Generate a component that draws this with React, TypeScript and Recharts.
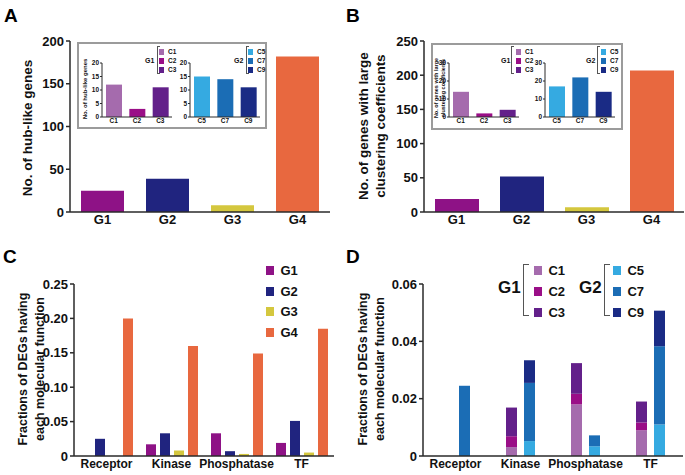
import React from 'react';
import { BarChart, Bar, XAxis, YAxis, Cell } from 'recharts';

const FONT = '"Liberation Sans", Arial, Helvetica, sans-serif';

// ---------- data ----------
const groups = ['G1', 'G2', 'G3', 'G4'];
const hubCounts = [25, 39, 8, 182];
const clusteringCounts = [19, 52, 7, 207];

const g1Clusters = ['C1', 'C2', 'C3'];
const g2Clusters = ['C5', 'C7', 'C9'];
const hubG1 = [12, 3, 11];
const hubG2 = [15, 14, 11];
const clusG1 = [14, 2, 4];
const clusG2 = [17, 22, 14];

const functions = ['Receptor', 'Kinase', 'Phosphatase', 'TF'];
const fracG1 = [0, 0.017, 0.033, 0.019];
const fracG2 = [0.025, 0.033, 0.007, 0.051];
const fracG3 = [0, 0.008, 0.003, 0.005];
const fracG4 = [0.2, 0.16, 0.149, 0.185];

const fracC1 = [0, 0.0031, 0.018, 0.009];
const fracC2 = [0, 0.0038, 0.0037, 0.0027];
const fracC3 = [0, 0.01, 0.0107, 0.0073];
const fracC5 = [0, 0.0052, 0.0034, 0.011];
const fracC7 = [0.0245, 0.0203, 0.0038, 0.0273];
const fracC9 = [0, 0.0079, 0, 0.0124];

const hubTicks = [0, 50, 100, 150, 200];
const clusTicks = [0, 50, 100, 150, 200, 250];
const insetHubTicks = [0, 5, 10, 15, 20];
const insetClusTicks = [0, 10, 20, 30];
const fracTicksC = [0, 0.05, 0.1, 0.15, 0.2, 0.25];
const fracTicksD = [0, 0.02, 0.04, 0.06];

const COLORS: Record<string, string> = {
  G1: '#8E1286',
  G2: '#20247F',
  G3: '#D4C73E',
  G4: '#E8683F',
  C1: '#A56BAD',
  C2: '#9A0E87',
  C3: '#63208A',
  C5: '#35AAE1',
  C7: '#1B6DB5',
  C9: '#1A2B85',
};

// ---------- built tables ----------
const hubData = groups.map((g, i) => ({ name: g, value: hubCounts[i] }));
const clusData = groups.map((g, i) => ({ name: g, value: clusteringCounts[i] }));
const hubG1Data = g1Clusters.map((c, i) => ({ name: c, value: hubG1[i] }));
const hubG2Data = g2Clusters.map((c, i) => ({ name: c, value: hubG2[i] }));
const clusG1Data = g1Clusters.map((c, i) => ({ name: c, value: clusG1[i] }));
const clusG2Data = g2Clusters.map((c, i) => ({ name: c, value: clusG2[i] }));
const fracData = functions.map((f, i) => ({
  name: f, G1: fracG1[i], G2: fracG2[i], G3: fracG3[i], G4: fracG4[i],
}));
const stackData = functions.map((f, i) => ({
  name: f, C1: fracC1[i], C2: fracC2[i], C3: fracC3[i], C5: fracC5[i], C7: fracC7[i], C9: fracC9[i],
}));

const AXIS = { stroke: '#2a2a2a', strokeWidth: 1.5 };
const mainTick = { fill: '#111', fontSize: 13, fontWeight: 700, fontFamily: FONT };
const catTick = { fill: '#111', fontSize: 12, fontWeight: 700, fontFamily: FONT };
const insetTick = { fill: '#111', fontSize: 6.5, fontWeight: 700, fontFamily: FONT };
const fmtFrac = (v: number) => (v === 0 ? '0' : v.toFixed(2));

const abs = (left: number, top: number): React.CSSProperties => ({ position: 'absolute', left, top });

function RotLabel({ lines, cx, cy, size, lh }: { lines: string[]; cx: number; cy: number; size: number; lh: number }) {
  return (
    <div
      style={{
        position: 'absolute', left: cx, top: cy,
        transform: 'translate(-50%, -50%) rotate(-90deg)',
        whiteSpace: 'nowrap', textAlign: 'center', fontFamily: FONT,
        fontWeight: 700, fontSize: size, lineHeight: `${lh}px`, color: '#111',
      }}
    >
      {lines.map((l) => (<div key={l}>{l}</div>))}
    </div>
  );
}

function PanelLetter({ ch, x, y }: { ch: string; x: number; y: number }) {
  return (
    <div style={{ ...abs(x, y), fontFamily: FONT, fontWeight: 700, fontSize: 19, lineHeight: '19px', color: '#000' }}>{ch}</div>
  );
}

function Bracket({ x, y1, y2, w, bw }: { x: number; y1: number; y2: number; w: number; bw: number }) {
  return (
    <div style={{
      position: 'absolute', left: x, top: y1, width: w, height: y2 - y1, boxSizing: 'border-box',
      borderLeft: `${bw}px solid #555`, borderTop: `${bw}px solid #555`, borderBottom: `${bw}px solid #555`,
    }} />
  );
}

function LegendItem({ x, y, color, label, sq, size }: { x: number; y: number; color: string; label: string; sq: number; size: number }) {
  return (
    <div style={{ position: 'absolute', left: x, top: y, display: 'flex', alignItems: 'center', fontFamily: FONT, fontWeight: 700, fontSize: size, color: '#111', lineHeight: 1 }}>
      <div style={{ width: sq, height: sq + 1, background: color, marginRight: sq * 0.8 }} />
      <span>{label}</span>
    </div>
  );
}

function MainBars({ left, top, width, height, margin, yw, data, ticks, barSize }: any) {
  return (
    <div style={abs(left, top)}>
      <BarChart width={width} height={height} data={data} margin={margin}>
        <XAxis dataKey="name" interval={0} tickLine={false} axisLine={AXIS} tick={mainTick} tickSize={0} tickMargin={3} height={20} />
        <YAxis domain={[0, ticks[ticks.length - 1]]} ticks={ticks} interval={0} width={yw} axisLine={AXIS} tickLine={AXIS} tickSize={4} tickMargin={2} tick={mainTick} />
        <Bar dataKey="value" barSize={barSize} isAnimationActive={false}>
          {data.map((d: any) => (<Cell key={d.name} fill={COLORS[d.name]} />))}
        </Bar>
      </BarChart>
    </div>
  );
}

function InsetBars({ left, top, width, height, margin, yw, data, ticks }: any) {
  const axis = { stroke: '#2a2a2a', strokeWidth: 1 };
  return (
    <div style={abs(left, top)}>
      <BarChart width={width} height={height} data={data} margin={margin}>
        <XAxis dataKey="name" interval={0} tickLine={false} axisLine={axis} tick={insetTick} tickSize={0} tickMargin={1} height={10} />
        <YAxis domain={[0, ticks[ticks.length - 1]]} ticks={ticks} interval={0} width={yw} axisLine={axis} tickLine={axis} tickSize={2} tickMargin={1} tick={insetTick} />
        <Bar dataKey="value" barSize={16} isAnimationActive={false}>
          {data.map((d: any) => (<Cell key={d.name} fill={COLORS[d.name]} />))}
        </Bar>
      </BarChart>
    </div>
  );
}

function InsetLegend({ gx, gLabel, bx, sx, names }: { gx: number; gLabel: string; bx: number; sx: number; names: string[] }) {
  const rows = [49, 58, 67];
  return (
    <>
      <div style={{ ...abs(gx, 57), fontFamily: FONT, fontWeight: 700, fontSize: 7, lineHeight: '8px', color: '#111' }}>{gLabel}</div>
      <Bracket x={bx} y1={46} y2={74} w={3} bw={1} />
      {names.map((n, i) => (
        <LegendItem key={n} x={sx} y={rows[i]} color={COLORS[n]} label={n} sq={5} size={6.5} />
      ))}
    </>
  );
}

export default function App() {
  return (
    <div style={{ position: 'absolute', left: 0, top: 0, width: 685, height: 475, background: '#fff', overflow: 'hidden' }}>
      {/* Panel A */}
      <PanelLetter ch="A" x={4} y={6} />
      <RotLabel lines={['No. of hub-like genes']} cx={27} cy={128} size={13.5} lh={17} />
      <MainBars left={0} top={0} width={342} height={235} margin={{ top: 41, right: 12, bottom: 3, left: 0 }} yw={70} data={hubData} ticks={hubTicks} barSize={43} />
      <div style={{ position: 'absolute', left: 77, top: 42, width: 190, height: 87, boxSizing: 'border-box', border: '2px solid #9b9b9b', background: '#fff' }} />
      <RotLabel lines={['No. of hub-like genes']} cx={85} cy={89} size={6} lh={7} />
      <InsetBars left={77} top={42} width={100} height={87} margin={{ top: 21, right: 5, bottom: 2, left: 0 }} yw={25} data={hubG1Data} ticks={insetHubTicks} />
      <InsetBars left={168} top={42} width={99} height={87} margin={{ top: 21, right: 7, bottom: 2, left: 0 }} yw={22} data={hubG2Data} ticks={insetHubTicks} />
      <InsetLegend gx={145} gLabel="G1" bx={157} sx={159} names={g1Clusters} />
      <InsetLegend gx={234} gLabel="G2" bx={246} sx={248} names={g2Clusters} />

      {/* Panel B */}
      <PanelLetter ch="B" x={346} y={6} />
      <RotLabel lines={['No. of genes with large', 'clustering coefficients']} cx={371.5} cy={126} size={13.5} lh={17} />
      <MainBars left={342} top={0} width={343} height={235} margin={{ top: 41, right: 1, bottom: 3, left: 0 }} yw={82} data={clusData} ticks={clusTicks} barSize={44} />
      <div style={{ position: 'absolute', left: 431, top: 43, width: 192, height: 87, boxSizing: 'border-box', border: '2px solid #9b9b9b', background: '#fff' }} />
      <RotLabel lines={['No. of genes with large', 'clustering coefficients']} cx={439} cy={88} size={5.5} lh={6.5} />
      <InsetBars left={431} top={44} width={92} height={86} margin={{ top: 19, right: 4, bottom: 3, left: 0 }} yw={18} data={clusG1Data} ticks={insetClusTicks} />
      <InsetBars left={523} top={44} width={100} height={86} margin={{ top: 19, right: 8, bottom: 3, left: 0 }} yw={22} data={clusG2Data} ticks={insetClusTicks} />
      <InsetLegend gx={501} gLabel="G1" bx={511} sx={516} names={g1Clusters} />
      <InsetLegend gx={586} gLabel="G2" bx={597} sx={601} names={g2Clusters} />

      {/* Panel C */}
      <PanelLetter ch="C" x={3} y={247} />
      <RotLabel lines={['Fractions of DEGs having', 'each molecular function']} cx={31.5} cy={369} size={12.5} lh={17} />
      <div style={abs(0, 235)}>
        <BarChart width={342} height={240} data={fracData} margin={{ top: 49, right: 8, bottom: 2, left: 0 }} barGap={4}>
          <XAxis dataKey="name" interval={0} tickLine={false} axisLine={AXIS} tick={catTick} tickSize={0} tickMargin={3} height={17} />
          <YAxis domain={[0, 0.25]} ticks={fracTicksC} interval={0} width={74} axisLine={AXIS} tickLine={AXIS} tickSize={4} tickMargin={2} tick={mainTick} tickFormatter={fmtFrac} />
          {groups.map((g) => (
            <Bar key={g} dataKey={g} fill={COLORS[g]} barSize={10} isAnimationActive={false} />
          ))}
        </BarChart>
      </div>
      {groups.map((g, i) => (
        <LegendItem key={g} x={266} y={264 + i * 20.7} color={COLORS[g]} label={g} sq={8} size={13} />
      ))}

      {/* Panel D */}
      <PanelLetter ch="D" x={346} y={247} />
      <RotLabel lines={['Fractions of DEGs having', 'each molecular function']} cx={371.5} cy={369} size={12.5} lh={17} />
      <div style={abs(342, 235)}>
        <BarChart width={343} height={240} data={stackData} margin={{ top: 49, right: 2, bottom: 2, left: 0 }} barGap={7}>
          <XAxis dataKey="name" interval={0} tickLine={false} axisLine={AXIS} tick={catTick} tickSize={0} tickMargin={3} height={17} />
          <YAxis domain={[0, 0.06]} ticks={fracTicksD} interval={0} width={81} axisLine={AXIS} tickLine={AXIS} tickSize={4} tickMargin={2} tick={mainTick} tickFormatter={fmtFrac} />
          {g1Clusters.map((c) => (
            <Bar key={c} dataKey={c} stackId="G1" fill={COLORS[c]} barSize={11} isAnimationActive={false} />
          ))}
          {g2Clusters.map((c) => (
            <Bar key={c} dataKey={c} stackId="G2" fill={COLORS[c]} barSize={11} isAnimationActive={false} />
          ))}
        </BarChart>
      </div>
      <div style={{ ...abs(498, 279), fontFamily: FONT, fontWeight: 700, fontSize: 17, lineHeight: '18px', color: '#111' }}>G1</div>
      <Bracket x={523} y1={264} y2={316} w={6} bw={1.5} />
      {g1Clusters.map((c, i) => (
        <LegendItem key={c} x={534} y={264 + i * 21} color={COLORS[c]} label={c} sq={8} size={13} />
      ))}
      <div style={{ ...abs(579, 279), fontFamily: FONT, fontWeight: 700, fontSize: 17, lineHeight: '18px', color: '#111' }}>G2</div>
      <Bracket x={604} y1={264} y2={316} w={6} bw={1.5} />
      {g2Clusters.map((c, i) => (
        <LegendItem key={c} x={613} y={264 + i * 21} color={COLORS[c]} label={c} sq={8} size={13} />
      ))}
    </div>
  );
}
